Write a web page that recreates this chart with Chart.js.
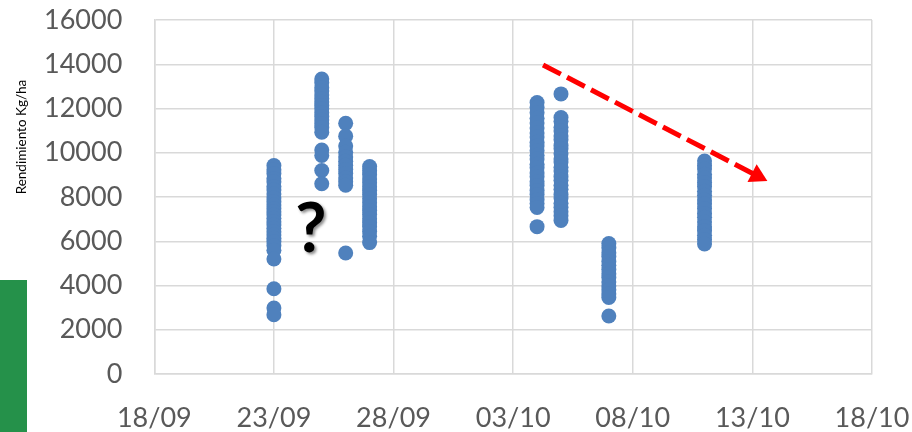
<!DOCTYPE html>
<html>
<head>
<meta charset="utf-8">
<script src="https://cdn.jsdelivr.net/npm/chart.js@4/dist/chart.umd.min.js"></script>
<style>
  body { margin: 0; background: #fff; }
  #wrap { width: 912px; height: 432px; position: relative; }
</style>
</head>
<body>
<div id="wrap"><canvas id="rendChart"></canvas></div>
<script>
// fechas de cosecha y rendimientos (kg/ha)
const fechas = ['23/09', '25/09', '26/09', '27/09', '04/10', '05/10', '07/10', '11/10'];
const r2309 = [9420, 9230, 9060, 8840, 8690, 8480, 8320, 8130, 7960, 7790, 7640, 7480, 7330, 7190, 7040, 6880, 6740, 6590, 6430, 6280, 6140, 5990, 5810, 5590, 5200, 3850, 2980, 2680];
const r2509 = [13330, 13160, 12940, 12790, 12610, 12440, 12290, 12130, 11990, 11810, 11640, 11480, 11310, 11140, 10930, 10120, 9880, 9200, 8600];
const r2609 = [11330, 10750, 10300, 10020, 9810, 9620, 9440, 9240, 9060, 8860, 8690, 8530, 5470];
const r2709 = [9380, 9190, 9010, 8810, 8640, 8460, 8290, 8110, 7920, 7740, 7560, 7390, 7210, 7020, 6840, 6660, 6440, 6230, 5940];
const r0410 = [12270, 12060, 11810, 11560, 11340, 11120, 10890, 10710, 10480, 10310, 10090, 9890, 9720, 9480, 9320, 9090, 8910, 8690, 8520, 8290, 8110, 7880, 7710, 7530, 6660];
const r0510 = [12660, 11590, 11420, 11150, 10980, 10760, 10590, 10330, 10180, 9950, 9720, 9580, 9340, 9170, 8920, 8760, 8530, 8350, 8110, 7960, 7720, 7540, 7330, 7150, 6940];
const r0710 = [5900, 5710, 5480, 5310, 5080, 4910, 4720, 4530, 4360, 4160, 3980, 3810, 3620, 3460, 2620];
const r1110 = [9630, 9420, 9260, 9030, 8860, 8650, 8470, 8260, 8080, 7870, 7690, 7480, 7250, 7080, 6870, 6650, 6480, 6270, 6080, 5880];
const rendimientos = [r2309, r2509, r2609, r2709, r0410, r0510, r0710, r1110];

const xTickLabels = ['18/09', '23/09', '28/09', '03/10', '08/10', '13/10', '18/10'];

// flecha de tendencia (dias desde 18/09, kg/ha)
const flechaX = [16.25, 25.2];
const flechaY = [13970, 8960];

// signo de pregunta
const preguntaX = 6.55;
const preguntaY = 6500;

// dia contado desde el 18/09
function diaDesde(fecha) {
    const [d, m] = fecha.split('/').map(Number);
    return m === 9 ? d - 18 : d + 12;
}

const puntos = [];
fechas.forEach((f, i) => {
    rendimientos[i].forEach(v => puntos.push({ x: diaDesde(f), y: v }));
});

const extras = {
    id: 'extras',
    afterDraw(chart) {
        const ctx = chart.ctx;
        const xs = chart.scales.x, ys = chart.scales.y;
        ctx.save();
        // recuadro verde a la izquierda
        ctx.fillStyle = '#25914a';
        ctx.fillRect(0, 280, 27, 152);
        // titulo eje y
        ctx.translate(22, 137);
        ctx.rotate(-Math.PI / 2);
        ctx.fillStyle = '#000';
        ctx.font = '13.5px Lato';
        ctx.textAlign = 'center';
        ctx.textBaseline = 'middle';
        ctx.fillText('Rendimiento Kg/ha', 0, 0);
        ctx.restore();

        ctx.save();
        ctx.font = 'bold 68px Lato';
        ctx.fillStyle = '#000';
        ctx.textAlign = 'center';
        ctx.textBaseline = 'middle';
        ctx.shadowColor = 'rgba(0,0,0,0.45)';
        ctx.shadowOffsetX = 2;
        ctx.shadowOffsetY = 2;
        ctx.shadowBlur = 3;
        ctx.fillText('?', xs.getPixelForValue(preguntaX), ys.getPixelForValue(preguntaY));
        ctx.restore();
    }
};

function sinPadding(s) {
    s.paddingTop = 0;
    s.paddingBottom = 0;
    s.paddingLeft = 0;
    s.paddingRight = 0;
}

const ctx = document.getElementById('rendChart');
new Chart(ctx, {
    type: 'scatter',
    data: {
        datasets: [
            {
                data: flechaX.map((x, i) => ({ x: x, y: flechaY[i] })),
                showLine: true,
                borderColor: '#ff0000',
                borderWidth: 5,
                borderDash: [20, 7],
                backgroundColor: '#ff0000',
                pointStyle: 'triangle',
                pointRadius: [0, 11.5],
                pointRotation: [0, 117.3],
                pointBorderWidth: 0,
                order: 0
            },
            {
                data: puntos,
                backgroundColor: '#4f81bd',
                borderColor: '#4f81bd',
                pointRadius: 7.5,
                pointBorderWidth: 0,
                order: 1
            }
        ]
    },
    options: {
        responsive: true,
        maintainAspectRatio: false,
        animation: false,
        layout: { padding: { left: 0, top: 20, right: 40, bottom: 0 } },
        plugins: { legend: { display: false }, tooltip: { enabled: false } },
        scales: {
            x: {
                type: 'linear',
                min: 0,
                max: 30,
                afterFit: s => { s.height = 58; sinPadding(s); },
                grid: { color: '#d9d9d9', lineWidth: 1.5, drawTicks: false },
                border: { color: '#d9d9d9', width: 1.5 },
                ticks: {
                    stepSize: 5,
                    padding: 28,
                    color: '#595959',
                    font: { family: 'Lato', size: 27 },
                    callback: (v, i) => xTickLabels[i]
                }
            },
            y: {
                min: 0,
                max: 16000,
                afterFit: s => { s.width = 154.3; sinPadding(s); },
                grid: { color: '#d9d9d9', lineWidth: 1.5, drawTicks: false },
                border: { color: '#d9d9d9', width: 1.5 },
                ticks: {
                    stepSize: 2000,
                    padding: 32,
                    color: '#595959',
                    font: { family: 'Lato', size: 27 },
                    callback: v => String(v)
                }
            }
        }
    },
    plugins: [extras]
});
</script>
</body>
</html>
